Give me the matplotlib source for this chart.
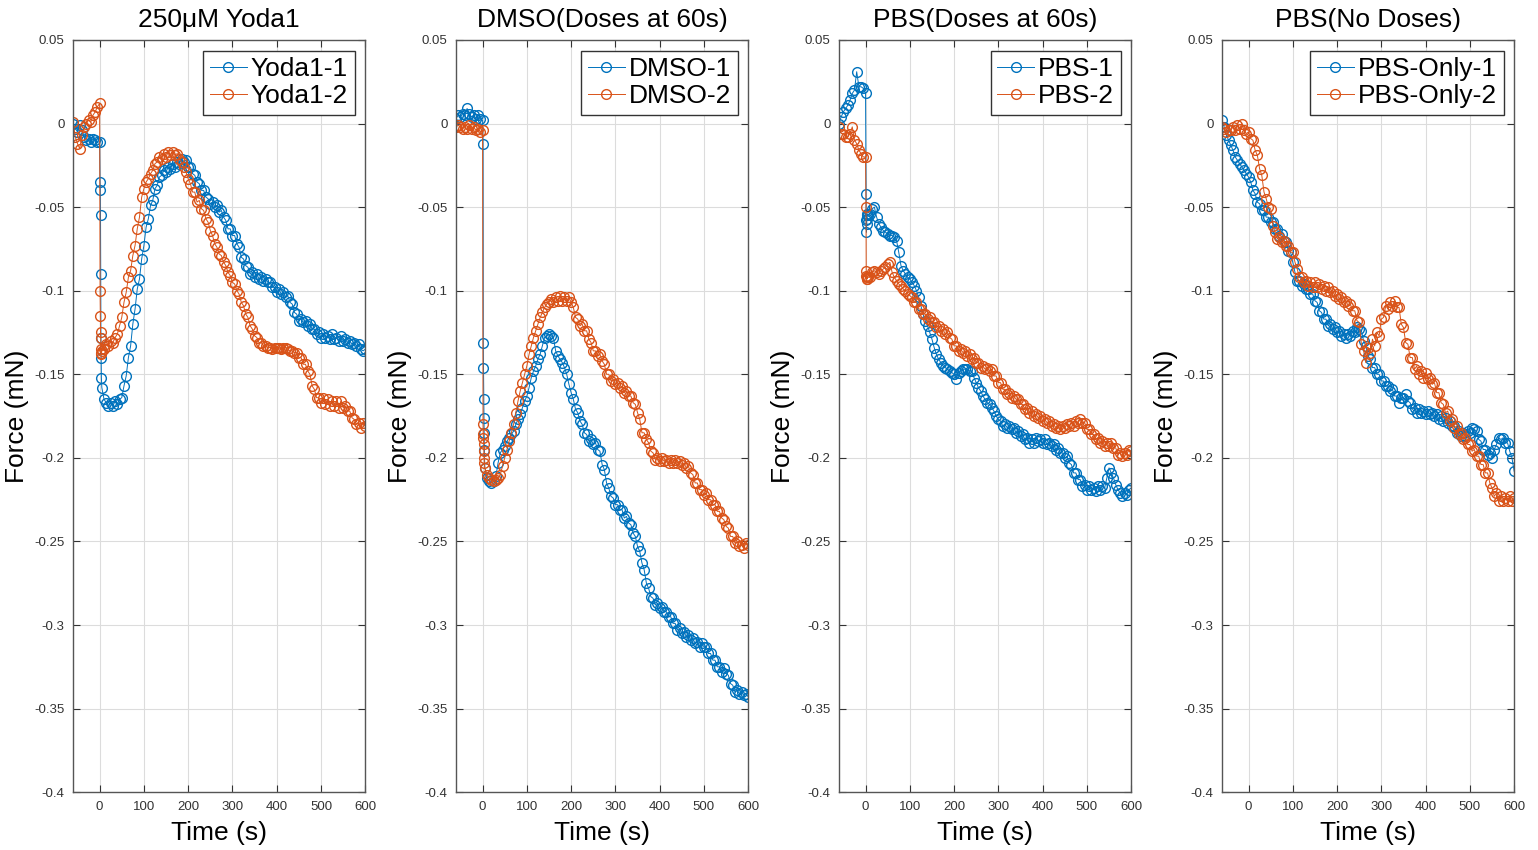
import matplotlib
matplotlib.use("Agg")
import matplotlib.pyplot as plt
from matplotlib.ticker import FuncFormatter

plt.rcParams['font.family'] = ['Liberation Sans', 'DejaVu Sans']

BLUE = '#0072BD'
ORANGE = '#D95319'

# sampling times (s): every 5 s from -60 to 600; extra samples during the step at t=0
t_grid = list(range(-60, 601, 5))
t_step = [1, 1.5, 2, 2.5, 3, 3.5, 4]

# ---- 250uM Yoda1 ----
f_yoda1_1 = [0.000, -0.003, -0.005, -0.001, -0.004, -0.008, -0.010, -0.009, -0.011, -0.009, -0.010, -0.011, -0.011,
             -0.158, -0.165, -0.167, -0.169, -0.167, -0.169, -0.166, -0.168, -0.165, -0.164, -0.157, -0.151, -0.140, -0.133, -0.120, -0.111, -0.099, -0.093, -0.081, -0.073,
             -0.062, -0.057, -0.049, -0.046, -0.039, -0.037, -0.032, -0.031, -0.028, -0.029, -0.026, -0.027, -0.024, -0.026, -0.023, -0.024, -0.021, -0.023, -0.022, -0.026,
             -0.026, -0.030, -0.031, -0.035, -0.036, -0.040, -0.040, -0.044, -0.045, -0.048, -0.047, -0.050, -0.049, -0.053, -0.052, -0.056, -0.058, -0.063, -0.063, -0.067,
             -0.067, -0.072, -0.074, -0.080, -0.081, -0.085, -0.086, -0.090, -0.089, -0.092, -0.090, -0.093, -0.092, -0.094, -0.093, -0.095, -0.095, -0.098, -0.098, -0.101,
             -0.099, -0.102, -0.101, -0.104, -0.103, -0.107, -0.108, -0.113, -0.114, -0.118, -0.117, -0.119, -0.118, -0.121, -0.120, -0.123, -0.123, -0.126, -0.125, -0.128,
             -0.126, -0.128, -0.127, -0.129, -0.126, -0.129, -0.128, -0.130, -0.127, -0.130, -0.129, -0.131, -0.130, -0.132, -0.131, -0.133, -0.132, -0.135, -0.136, -0.135]
step_yoda1_1 = [-0.035, -0.040, -0.055, -0.090, -0.128, -0.140, -0.152]

f_yoda1_2 = [0.001, -0.008, -0.012, -0.015, -0.007, -0.002, 0.000, 0.002, 0.001, 0.005, 0.007, 0.010, 0.012,
             -0.136, -0.135, -0.132, -0.133, -0.130, -0.131, -0.128, -0.126, -0.121, -0.116, -0.107, -0.101, -0.092, -0.088, -0.079, -0.073, -0.063, -0.056, -0.044, -0.039,
             -0.035, -0.033, -0.030, -0.028, -0.024, -0.023, -0.020, -0.021, -0.018, -0.020, -0.017, -0.019, -0.017, -0.019, -0.018, -0.021, -0.023, -0.026, -0.029, -0.033,
             -0.036, -0.041, -0.041, -0.047, -0.046, -0.051, -0.052, -0.057, -0.059, -0.064, -0.067, -0.072, -0.074, -0.078, -0.079, -0.083, -0.085, -0.089, -0.091, -0.095,
             -0.096, -0.100, -0.102, -0.107, -0.109, -0.114, -0.116, -0.121, -0.123, -0.127, -0.128, -0.131, -0.131, -0.133, -0.133, -0.134, -0.134, -0.135, -0.134, -0.134,
             -0.134, -0.135, -0.134, -0.134, -0.135, -0.136, -0.136, -0.137, -0.137, -0.140, -0.140, -0.144, -0.144, -0.148, -0.150, -0.157, -0.159, -0.164, -0.164, -0.167,
             -0.164, -0.168, -0.165, -0.169, -0.166, -0.169, -0.166, -0.170, -0.166, -0.170, -0.169, -0.172, -0.172, -0.176, -0.177, -0.180, -0.179, -0.182, -0.179, -0.181]
step_yoda1_2 = [-0.100, -0.115, -0.125, -0.128, -0.135, -0.137, -0.138]

# ---- DMSO ----
f_dmso_1 = [0.003, 0.005, 0.004, 0.006, 0.005, 0.009, 0.006, 0.004, 0.005, 0.003, 0.005, 0.003, 0.002,
            -0.206, -0.212, -0.214, -0.215, -0.214, -0.211, -0.203, -0.197, -0.195, -0.193, -0.190, -0.188, -0.186, -0.184, -0.180, -0.177, -0.174, -0.170, -0.166, -0.163,
            -0.158, -0.152, -0.148, -0.145, -0.141, -0.138, -0.133, -0.128, -0.127, -0.126, -0.127, -0.128, -0.136, -0.139, -0.141, -0.143, -0.146, -0.150, -0.156, -0.161,
            -0.165, -0.171, -0.173, -0.178, -0.180, -0.185, -0.186, -0.190, -0.189, -0.192, -0.191, -0.195, -0.196, -0.204, -0.207, -0.215, -0.218, -0.223, -0.224, -0.228,
            -0.228, -0.231, -0.231, -0.236, -0.235, -0.239, -0.240, -0.245, -0.247, -0.253, -0.256, -0.263, -0.267, -0.275, -0.278, -0.283, -0.284, -0.288, -0.287, -0.290,
            -0.289, -0.292, -0.292, -0.295, -0.295, -0.299, -0.299, -0.303, -0.302, -0.305, -0.304, -0.307, -0.306, -0.309, -0.308, -0.311, -0.310, -0.313, -0.311, -0.313,
            -0.313, -0.317, -0.317, -0.321, -0.321, -0.325, -0.325, -0.328, -0.326, -0.329, -0.330, -0.335, -0.336, -0.340, -0.339, -0.341, -0.340, -0.342, -0.341, -0.343]
step_dmso_1 = [-0.012, -0.131, -0.146, -0.165, -0.176, -0.185, -0.195]

f_dmso_2 = [-0.002, -0.001, -0.002, -0.003, -0.002, -0.003, -0.001, -0.003, -0.002, -0.004, -0.003, -0.005, -0.004,
            -0.206, -0.210, -0.212, -0.213, -0.214, -0.213, -0.212, -0.210, -0.205, -0.200, -0.195, -0.190, -0.185, -0.180, -0.173, -0.166, -0.160, -0.155, -0.150, -0.145,
            -0.138, -0.133, -0.128, -0.124, -0.120, -0.116, -0.113, -0.110, -0.108, -0.107, -0.105, -0.107, -0.104, -0.106, -0.103, -0.106, -0.104, -0.106, -0.104, -0.107,
            -0.110, -0.116, -0.117, -0.121, -0.120, -0.124, -0.124, -0.129, -0.131, -0.136, -0.136, -0.139, -0.138, -0.142, -0.144, -0.150, -0.150, -0.154, -0.153, -0.156,
            -0.155, -0.158, -0.157, -0.161, -0.160, -0.163, -0.163, -0.167, -0.168, -0.173, -0.177, -0.185, -0.185, -0.189, -0.191, -0.196, -0.197, -0.201, -0.200, -0.202,
            -0.200, -0.202, -0.201, -0.203, -0.201, -0.203, -0.201, -0.203, -0.202, -0.204, -0.203, -0.206, -0.205, -0.209, -0.210, -0.215, -0.215, -0.219, -0.219, -0.222,
            -0.221, -0.225, -0.225, -0.228, -0.228, -0.232, -0.232, -0.236, -0.237, -0.241, -0.242, -0.247, -0.247, -0.251, -0.250, -0.253, -0.252, -0.254, -0.251, -0.252]
step_dmso_2 = [-0.180, -0.186, -0.188, -0.192, -0.196, -0.200, -0.203]

# ---- PBS (doses at 60 s) ----
f_pbs_1 = [0.000, 0.004, 0.007, 0.009, 0.011, 0.014, 0.018, 0.020, 0.031, 0.022, 0.022, 0.021, 0.018,
           -0.055, -0.054, -0.051, -0.050, -0.056, -0.060, -0.062, -0.064, -0.065, -0.066, -0.067, -0.067, -0.068, -0.070, -0.077, -0.085, -0.088, -0.090, -0.092, -0.093,
           -0.095, -0.097, -0.100, -0.104, -0.109, -0.114, -0.118, -0.121, -0.125, -0.129, -0.134, -0.138, -0.141, -0.143, -0.145, -0.146, -0.147, -0.148, -0.149, -0.150,
           -0.153, -0.149, -0.148, -0.147, -0.147, -0.147, -0.148, -0.148, -0.152, -0.155, -0.158, -0.160, -0.163, -0.165, -0.167, -0.168, -0.170, -0.172, -0.175, -0.177,
           -0.178, -0.181, -0.180, -0.182, -0.181, -0.183, -0.182, -0.185, -0.184, -0.187, -0.186, -0.189, -0.188, -0.191, -0.189, -0.191, -0.188, -0.190, -0.189, -0.191,
           -0.189, -0.192, -0.191, -0.193, -0.192, -0.195, -0.194, -0.197, -0.197, -0.200, -0.199, -0.203, -0.204, -0.209, -0.209, -0.213, -0.213, -0.217, -0.216, -0.219,
           -0.217, -0.219, -0.218, -0.220, -0.217, -0.219, -0.217, -0.218, -0.212, -0.206, -0.209, -0.212, -0.216, -0.219, -0.221, -0.223, -0.221, -0.222, -0.219, -0.218]
step_pbs_1 = [-0.042, -0.058, -0.065, -0.060, -0.057, -0.055, -0.054]

f_pbs_2 = [-0.002, -0.006, -0.006, -0.008, -0.008, -0.006, -0.002, -0.010, -0.012, -0.016, -0.018, -0.020, -0.020,
           -0.092, -0.092, -0.089, -0.088, -0.089, -0.090, -0.088, -0.087, -0.086, -0.084, -0.083, -0.089, -0.092, -0.094, -0.096, -0.097, -0.099, -0.100, -0.102, -0.103,
           -0.104, -0.107, -0.107, -0.111, -0.111, -0.114, -0.114, -0.117, -0.116, -0.119, -0.119, -0.122, -0.121, -0.124, -0.123, -0.126, -0.125, -0.128, -0.129, -0.133,
           -0.133, -0.136, -0.135, -0.137, -0.136, -0.139, -0.138, -0.141, -0.140, -0.143, -0.143, -0.146, -0.145, -0.147, -0.146, -0.148, -0.147, -0.151, -0.151, -0.155,
           -0.155, -0.159, -0.159, -0.162, -0.161, -0.164, -0.163, -0.165, -0.165, -0.168, -0.168, -0.171, -0.170, -0.173, -0.172, -0.175, -0.174, -0.176, -0.175, -0.178,
           -0.177, -0.179, -0.178, -0.181, -0.180, -0.182, -0.181, -0.183, -0.181, -0.182, -0.180, -0.181, -0.179, -0.181, -0.178, -0.179, -0.177, -0.179, -0.179, -0.183,
           -0.183, -0.186, -0.186, -0.189, -0.188, -0.191, -0.190, -0.193, -0.191, -0.193, -0.191, -0.194, -0.194, -0.198, -0.197, -0.199, -0.197, -0.198, -0.195, -0.196]
step_pbs_2 = [-0.050, -0.088, -0.091, -0.093, -0.092, -0.093, -0.092]

# ---- PBS (no doses) ----
f_only_1 = [0.002, -0.002, -0.007, -0.010, -0.013, -0.016, -0.020, -0.022, -0.024, -0.026, -0.028, -0.030, -0.032,
            -0.035, -0.040, -0.042, -0.047, -0.048, -0.052, -0.052, -0.056, -0.056, -0.059, -0.059, -0.063, -0.063, -0.067, -0.066, -0.070, -0.071, -0.076, -0.077, -0.083,
            -0.089, -0.094, -0.094, -0.097, -0.096, -0.099, -0.099, -0.102, -0.102, -0.106, -0.107, -0.112, -0.113, -0.117, -0.117, -0.121, -0.120, -0.123, -0.122, -0.125,
            -0.124, -0.127, -0.126, -0.128, -0.126, -0.127, -0.124, -0.125, -0.122, -0.123, -0.124, -0.130, -0.133, -0.139, -0.141, -0.146, -0.146, -0.150, -0.150, -0.154,
            -0.154, -0.157, -0.157, -0.160, -0.159, -0.163, -0.163, -0.167, -0.164, -0.164, -0.162, -0.166, -0.167, -0.171, -0.170, -0.173, -0.171, -0.173, -0.172, -0.174,
            -0.172, -0.174, -0.173, -0.175, -0.174, -0.177, -0.175, -0.178, -0.176, -0.179, -0.178, -0.181, -0.181, -0.185, -0.184, -0.187, -0.185, -0.187, -0.184, -0.185,
            -0.182, -0.183, -0.184, -0.189, -0.190, -0.195, -0.195, -0.198, -0.197, -0.200, -0.195, -0.192, -0.188, -0.189, -0.188, -0.191, -0.191, -0.196, -0.200, -0.208]

f_only_2 = [-0.002, -0.003, -0.005, -0.004, -0.004, -0.002, -0.004, -0.001, -0.003, 0.000, -0.004, -0.006, -0.005,
            -0.009, -0.010, -0.016, -0.019, -0.027, -0.031, -0.041, -0.045, -0.050, -0.051, -0.061, -0.065, -0.069, -0.068, -0.071, -0.070, -0.073, -0.073, -0.077, -0.077,
            -0.083, -0.087, -0.092, -0.092, -0.095, -0.094, -0.097, -0.095, -0.098, -0.095, -0.098, -0.096, -0.099, -0.097, -0.100, -0.098, -0.101, -0.100, -0.103, -0.102,
            -0.105, -0.104, -0.107, -0.106, -0.109, -0.108, -0.112, -0.112, -0.118, -0.119, -0.132, -0.136, -0.143, -0.134, -0.137, -0.129, -0.133, -0.125, -0.127, -0.117,
            -0.116, -0.109, -0.111, -0.107, -0.109, -0.106, -0.110, -0.110, -0.120, -0.122, -0.131, -0.132, -0.140, -0.140, -0.147, -0.145, -0.150, -0.148, -0.152, -0.149,
            -0.153, -0.152, -0.156, -0.155, -0.161, -0.161, -0.167, -0.168, -0.173, -0.172, -0.178, -0.177, -0.182, -0.181, -0.186, -0.185, -0.189, -0.188, -0.192, -0.192,
            -0.196, -0.195, -0.199, -0.199, -0.204, -0.204, -0.209, -0.209, -0.215, -0.218, -0.223, -0.221, -0.226, -0.223, -0.226, -0.224, -0.226, -0.223, -0.226, -0.224]

titles = ['250μM Yoda1', 'DMSO(Doses at 60s)', 'PBS(Doses at 60s)', 'PBS(No Doses)']
labels = [('Yoda1-1', 'Yoda1-2'), ('DMSO-1', 'DMSO-2'), ('PBS-1', 'PBS-2'),
          ('PBS-Only-1', 'PBS-Only-2')]

x_ticks = [0, 100, 200, 300, 400, 500, 600]
y_ticks = [-0.4, -0.35, -0.3, -0.25, -0.2, -0.15, -0.1, -0.05, 0, 0.05]


def build(vals, step_vals=None):
    # insert the samples taken during the step right after t = 0
    if step_vals is None:
        t, f = list(t_grid), list(vals)
    else:
        t = t_grid[:13] + t_step[:len(step_vals)] + t_grid[13:]
        f = vals[:13] + step_vals + vals[13:]
    n = min(len(t), len(f))
    return t[:n], f[:n]


series = [(build(f_yoda1_1, step_yoda1_1), build(f_yoda1_2, step_yoda1_2)),
          (build(f_dmso_1, step_dmso_1), build(f_dmso_2, step_dmso_2)),
          (build(f_pbs_1, step_pbs_1), build(f_pbs_2, step_pbs_2)),
          (build(f_only_1), build(f_only_2))]


def matlab_fmt(v, pos):
    s = f"{v:.2f}".rstrip('0').rstrip('.')
    if s in ('-0', '0'):
        return '0'
    return s


fig = plt.figure(figsize=(15.38, 8.5), dpi=100)
lefts = [0.0475, 0.2965, 0.5455, 0.7945]

for i in range(4):
    ax = fig.add_axes([lefts[i], 0.068, 0.19, 0.885])
    (ta, fa), (tb, fb) = series[i]
    ax.plot(ta, fa, '-o', color=BLUE, mfc='none', ms=7, mew=1.0, lw=0.7, label=labels[i][0])
    ax.plot(tb, fb, '-o', color=ORANGE, mfc='none', ms=7, mew=1.0, lw=0.7, label=labels[i][1])
    ax.set_xlim(-60, 600)
    ax.set_ylim(-0.4, 0.05)
    ax.set_xticks(x_ticks)
    ax.set_yticks(y_ticks)
    ax.yaxis.set_major_formatter(FuncFormatter(matlab_fmt))
    ax.grid(True, color='#dcdcdc', lw=0.8)
    ax.set_axisbelow(True)
    ax.tick_params(direction='in', top=True, right=True, labelsize=9.5, pad=6,
                   labelcolor='#333333', color='#333333', length=5)
    for sp in ax.spines.values():
        sp.set_color('#555555')
        sp.set_linewidth(1.0)
    ax.set_title(titles[i], fontsize=19, pad=9)
    ax.set_xlabel('Time (s)', fontsize=19, labelpad=6)
    ax.set_ylabel('Force (mN)', fontsize=19, labelpad=4)
    leg = ax.legend(loc='upper right', fontsize=19, handlelength=1.4, handletextpad=0.15,
                    labelspacing=0.12, borderpad=0.25, borderaxespad=0.4, fancybox=False,
                    framealpha=1)
    leg.get_frame().set_edgecolor('#333333')
    leg.get_frame().set_linewidth(1.0)

fig.savefig('out.png', dpi=100)
